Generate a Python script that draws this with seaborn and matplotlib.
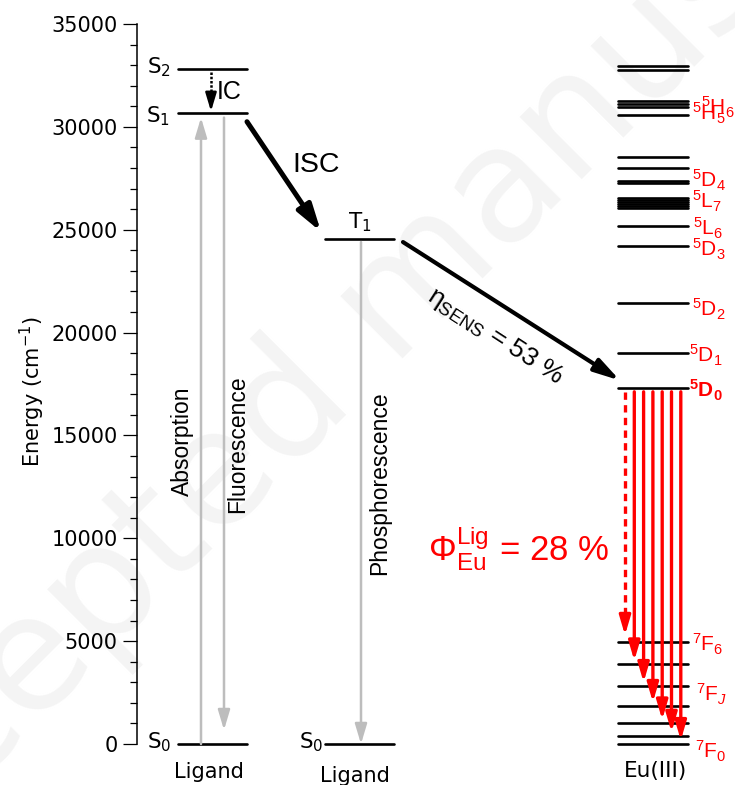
import pandas as pd
import matplotlib
matplotlib.use('Agg')
import matplotlib.pyplot as plt
import seaborn as sns

# ---- data (energies in cm-1) ----
lig_S0 = 0
lig_S1 = 30650
lig_S2 = 32800
lig_T1 = 24550

eu_7F = [0, 400, 1000, 1850, 2820, 3870, 4940]          # 7F0 ... 7F6
eu_5D0 = 17320
eu_upper = [18990, 21420, 24210, 25200,                 # 5D1, 5D2, 5D3, 5L6
            26050, 26150, 26250, 26350, 26450, 26550,   # 5L7 manifold
            27255, 27380, 27985, 28550,                 # 5D4 group
            30570, 30950, 31100, 31270,                 # 5H5 / 5H6
            32760, 32970]

eta_sens = 53
phi_eu = 28

eu_labels = [r'${}^{5}\mathrm{H}_{6}$', r'${}^{5}\mathrm{H}_{5}$', r'${}^{5}\mathrm{D}_{4}$',
             r'${}^{5}\mathrm{L}_{7}$', r'${}^{5}\mathrm{L}_{6}$', r'${}^{5}\mathrm{D}_{3}$',
             r'${}^{5}\mathrm{D}_{2}$', r'${}^{5}\mathrm{D}_{1}$', r'$\mathbf{{}^{5}D_{0}}$',
             r'${}^{7}\mathrm{F}_{6}$', r'${}^{7}\mathrm{F}_{J}$', r'${}^{7}\mathrm{F}_{0}$']
# label baselines (cm-1) and left edges (px) -- layout only
eu_label_y = [30625, 30333, 27028, 26007, 24743, 23674, 20772, 18521, 16820, 4487, 2056, -729]
eu_label_x = [701, 692, 692, 692, 693, 692, 692, 689, 689, 692, 696, 695]

# ---- layout (x in pixel-like units) ----
W, H = 735, 785
LIG1 = (178, 247)
LIG2 = (325, 394)
EU = (618, 688)
GRAY = '#bdbdbd'
RED = '#ff0000'
ARIAL = ['Liberation Sans', 'DejaVu Sans']

sns.set_style('ticks')
plt.rcParams['font.family'] = ['DejaVu Sans']
plt.rcParams['text.color'] = 'black'
plt.rcParams['axes.labelcolor'] = 'black'
plt.rcParams['ytick.color'] = 'black'
plt.rcParams['mathtext.fontset'] = 'custom'
plt.rcParams['mathtext.rm'] = 'Liberation Sans'
plt.rcParams['mathtext.it'] = 'Liberation Sans:italic'
plt.rcParams['mathtext.bf'] = 'Liberation Sans:bold'

fig = plt.figure(figsize=(W / 100, H / 100), dpi=100)
fig.text(0.543, 0.618, 'Accepted manuscript', rotation=45, color='#f4f4f4',
         fontsize=115, ha='center', va='center', zorder=-5)

ax = fig.add_axes([137 / W, 41 / H, 598 / W, 720 / H])
ax.set_facecolor('none')
ax.set_xlim(137, 735)
ax.set_ylim(0, 35000)

# ---- energy levels via seaborn ----
segs = [(LIG1, lig_S0), (LIG1, lig_S1), (LIG1, lig_S2), (LIG2, lig_S0), (LIG2, lig_T1)]
segs += [(EU, e) for e in eu_7F + [eu_5D0] + eu_upper]
rows = []
for i, ((x0, x1), e) in enumerate(segs):
    rows.append({'id': i, 'x': x0, 'E': e})
    rows.append({'id': i, 'x': x1, 'E': e})
levels = pd.DataFrame(rows)
sns.lineplot(data=levels, x='x', y='E', units='id', estimator=None,
             color='black', lw=1.9, legend=False, ax=ax)
for ln in ax.lines:
    ln.set_clip_on(False)


def arrow(x0, y0, x1, y1, color, lw, hl, hw, ms):
    ax.annotate('', xy=(x1, y1), xytext=(x0, y0), annotation_clip=False,
                arrowprops=dict(arrowstyle=f'-|>,head_length={hl},head_width={hw}',
                                color=color, lw=lw, mutation_scale=ms,
                                shrinkA=0, shrinkB=0))


# ligand radiative transitions (gray)
arrow(201, lig_S0, 201, lig_S1 - 200, GRAY, 1.8, 1.0, 0.3, 12)
arrow(224, lig_S1 - 200, 224, 680, GRAY, 1.8, 1.0, 0.3, 12)
arrow(361, lig_T1 - 150, 361, lig_S0, GRAY, 1.8, 1.0, 0.3, 12)

# IC (dotted)
ax.plot([211, 211], [lig_S2 - 150, lig_S1 + 700], color='black', lw=1.8, ls=(0, (1, 0.7)))
arrow(211, lig_S1 + 800, 211, lig_S1 + 100, 'black', 1.8, 1.0, 0.3, 11)

# ISC and energy transfer (thick black)
arrow(LIG1[1], lig_S1 - 400, LIG2[0] - 4, lig_T1 + 350, 'black', 3.6, 1.0, 0.3, 16)
arrow(LIG2[1] + 9, lig_T1 - 150, EU[0] + 2, eu_5D0 + 350, 'black', 3.0, 1.1, 0.3, 14)

# Eu emission (red)
for k, e in enumerate(eu_7F[::-1]):
    x = EU[0] + 7 + k * 9.3
    if k == 0:
        ax.plot([x, x], [eu_5D0 - 200, e + 1100], color=RED, lw=2.4, ls=(0, (2.2, 1.6)))
        arrow(x, e + 1200, x, e + 350, RED, 2.4, 0.95, 0.28, 12)
    else:
        arrow(x, eu_5D0 - 200, x, e + 180, RED, 2.4, 0.95, 0.28, 12)

# ---- text ----
fs = 15.5
dv = dict(math_fontfamily='dejavusans')
ax.text(147, 32620, r'S$_2$', fontsize=fs, va='baseline', **dv)
ax.text(146, 30200, r'S$_1$', fontsize=fs, va='baseline', **dv)
ax.text(147, -210, r'S$_0$', fontsize=fs, va='baseline', **dv)
ax.text(299, -210, r'S$_0$', fontsize=fs, va='baseline', **dv)
ax.text(348, 25080, r'T$_1$', fontsize=fs, va='baseline', **dv)
ax.text(217, 31700, 'IC', fontsize=18, va='center', family=ARIAL)
ax.text(292, 28150, 'ISC', fontsize=20.5, va='center', family=ARIAL)
ax.text(209, -1650, 'Ligand', fontsize=15, ha='center', va='baseline')
ax.text(355, -1830, 'Ligand', fontsize=15, ha='center', va='baseline')
ax.text(656, -1590, 'Eu(III)', fontsize=15.5, ha='center', va='baseline')

ax.text(182, 14700, 'Absorption', fontsize=16.5, rotation=90, ha='center', va='center', family=ARIAL)
ax.text(238, 14550, 'Fluorescence', fontsize=16.5, rotation=90, ha='center', va='center', family=ARIAL)
ax.text(380, 12700, 'Phosphorescence', fontsize=16.5, rotation=90, ha='center', va='center', family=ARIAL)

ax.text(495, 19834, r'$\mathrm{\eta}_{\mathrm{SENS}}$' + f' = {eta_sens} %', fontsize=19,
        rotation=-33, rotation_mode='anchor', ha='center', va='center', family=ARIAL)
ax.text(428, 8880, r'$\Phi_{\mathrm{Eu}}^{\mathrm{Lig}}$' + f' = {phi_eu} %', fontsize=25,
        color=RED, va='baseline', family=ARIAL)

for lab, y, x in zip(eu_labels, eu_label_y, eu_label_x):
    ax.text(x, y, lab, fontsize=15, color=RED, va='baseline', family=ARIAL)

# ---- axes styling ----
sns.despine(ax=ax, bottom=True)
ax.set_xticks([])
ax.set_yticks(range(0, 35001, 5000))
ax.set_yticks(range(0, 35001, 1000), minor=True)
ax.tick_params(axis='y', which='major', length=10, width=0.9, labelsize=15, pad=4,
               direction='out', colors='black')
ax.tick_params(axis='y', which='minor', length=5, width=0.9, direction='out', colors='black')
ax.spines['left'].set_linewidth(1.1)
ax.spines['left'].set_color('black')
ax.set_ylabel(r'Energy (cm$^{-1}$)', fontsize=15, math_fontfamily='dejavusans')
ax.yaxis.set_label_coords((47 - 137) / 598, 0.49)
ax.set_xlabel('')

fig.savefig('out.png', dpi=100)
